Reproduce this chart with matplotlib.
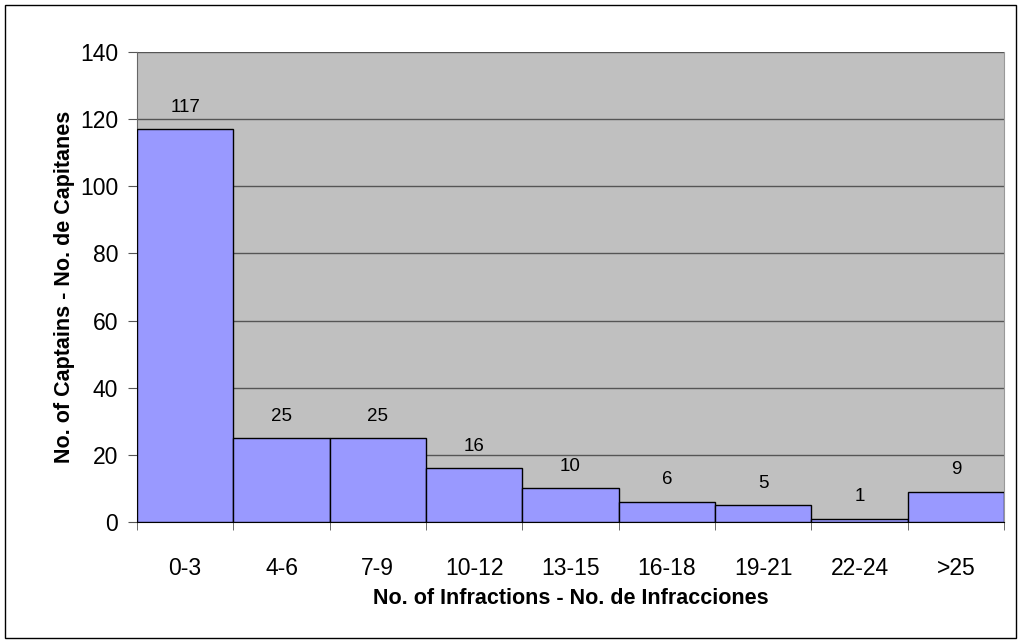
import matplotlib
matplotlib.use("Agg")
import matplotlib.pyplot as plt
from matplotlib.patches import Rectangle

plt.rcParams['font.family'] = ['Liberation Sans', 'DejaVu Sans']

categories = ["0-3", "4-6", "7-9", "10-12", "13-15", "16-18", "19-21", "22-24", ">25"]
captains = [117, 25, 25, 16, 10, 6, 5, 1, 9]
y_ticks = [0, 20, 40, 60, 80, 100, 120, 140]

fig = plt.figure(figsize=(10.18, 6.43), dpi=100)
fig.patch.set_facecolor("white")
fig.patches.append(Rectangle((5 / 1018, 5 / 643), 1011 / 1018, 633 / 643,
                             transform=fig.transFigure, fill=False,
                             edgecolor="black", linewidth=1.0, zorder=0))

ax = fig.add_axes([137 / 1018, 121 / 643, 867 / 1018, 470 / 643])
ax.set_facecolor("#C0C0C0")

x = list(range(len(categories)))
ax.bar(x, captains, width=1.0, color="#9999FF", edgecolor="black",
       linewidth=1.0, zorder=3)

for xi, v in zip(x, captains):
    ax.text(xi, v + 4, str(v), ha="center", va="bottom", fontsize=13.5, zorder=4)

ax.set_xlim(-0.5, len(categories) - 0.5)
ax.set_ylim(0, 140)
ax.set_yticks(y_ticks)
ax.set_xticks(x)
ax.set_xticklabels(categories)
ax.set_xticks([i - 0.5 for i in range(len(categories) + 1)], minor=True)
ax.tick_params(axis="x", which="major", length=0, pad=25, labelsize=16.5)
ax.tick_params(axis="x", which="minor", length=6, color="#555555", direction="out")
ax.tick_params(axis="y", length=6.5, color="#555555", labelsize=16.5, pad=7)

ax.yaxis.grid(True, color="#555555", linewidth=1.0, zorder=1)
ax.set_axisbelow(True)

ax.spines["top"].set_visible(False)
ax.spines["left"].set_color("#666666")
ax.spines["right"].set_color("#999999")
ax.spines["bottom"].set_color("black")

ax.set_xlabel("No. of Infractions - No. de Infracciones", fontsize=15.5,
              fontweight="bold", labelpad=6)
ax.set_ylabel("No. of Captains - No. de Capitanes", fontsize=15.5,
              fontweight="bold", labelpad=3.5)

fig.savefig("out.png", dpi=100)
